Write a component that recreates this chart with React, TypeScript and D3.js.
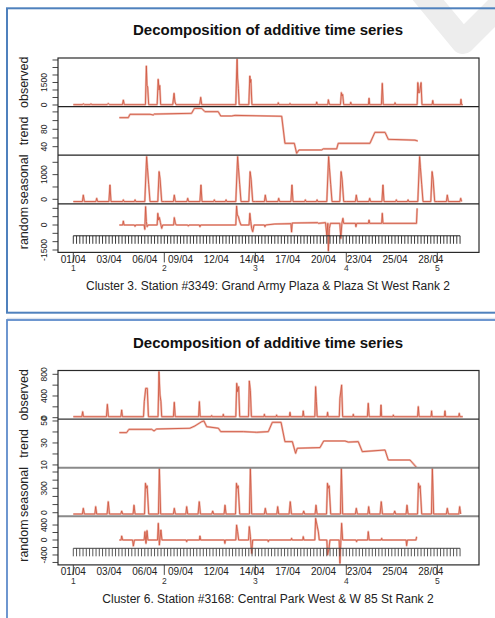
import React from 'react';
import * as d3 from 'd3';

// ---- Cluster 3, station #3349 ----
const observed1: [number, number][] = [
  [0, 20], [0.7, 20], [0.77, 80], [0.85, 20], [1.3, 20], [1.36, 80], [1.42, 20],
  [2.6, 20], [2.69, 100], [2.78, 20], [3.78, 20], [3.85, 330], [3.92, 20],
  [5.55, 20], [5.62, 2600], [5.67, 1300], [5.72, 1200], [5.8, 20],
  [6.45, 20], [6.53, 1710], [6.6, 1000], [6.65, 1300], [6.72, 20],
  [7.65, 20], [7.75, 780], [7.82, 200], [7.9, 20], [9.72, 20], [9.8, 510], [9.88, 20],
  [12.5, 20], [12.56, 2000], [12.6, 3050], [12.64, 1800], [12.7, 1100], [12.76, 20],
  [13.5, 20], [13.58, 1930], [13.62, 1500], [13.66, 1700], [13.74, 20],
  [15.72, 20], [15.77, 150], [15.82, 20], [16.62, 20], [16.67, 100], [16.72, 20],
  [18.68, 20], [18.72, 200], [18.78, 20], [19.58, 20], [19.62, 350], [19.67, 150], [19.72, 20],
  [20.55, 20], [20.62, 820], [20.68, 600], [20.72, 700], [20.8, 20],
  [21.3, 20], [21.34, 180], [21.4, 20], [22.7, 20], [22.75, 450], [22.8, 20],
  [23.7, 20], [23.77, 1440], [23.84, 20], [24.7, 20], [24.75, 150], [24.8, 20],
  [26.45, 20], [26.5, 1490], [26.58, 800], [26.65, 900], [26.75, 1490], [26.82, 20],
  [27.6, 20], [27.65, 300], [27.7, 20], [29.78, 20], [29.82, 380], [29.87, 20], [29.96, 20],
];

const trend1: [number, number][] = [
  [3.54, 106.7], [4.23, 106.7], [4.36, 114.5], [5.9, 114.5], [6.15, 112.9], [6.23, 115],
  [9.1, 116.8], [9.31, 128], [9.88, 128], [10.13, 120.5], [11.15, 120.5], [11.34, 110.6],
  [12.18, 110.6], [12.44, 112], [16.03, 110], [16.28, 47.8], [17.0, 47.8], [17.18, 24.8],
  [17.36, 32.4], [19.1, 32.4], [19.23, 35], [20.26, 35], [20.38, 47.8], [22.82, 47.8],
  [23.2, 73], [23.98, 73], [24.23, 57], [26.28, 55], [26.5, 53],
];

// one week of the (weekly periodic) seasonal component
const seasonalWeek1: [number, number][] = [
  [0, -90], [0.7, -90], [0.77, 170], [0.85, -90], [1.74, -90], [1.8, 40], [1.87, -90],
  [2.74, -90], [2.82, 580], [2.9, -90], [3.8, -90], [3.85, -20], [3.9, -90],
  [4.7, -90], [4.75, -20], [4.8, -90], [5.5, -90], [5.64, 1730], [5.7, 1300], [5.8, 600],
  [5.9, -90], [6.5, -90], [6.6, 1120], [6.68, 800], [6.8, -90], [7, -90],
];

const random1: [number, number][] = [
  [3.54, 0], [3.8, 0], [3.85, 240], [3.9, 0], [4.7, 0], [4.75, -80], [4.8, 0],
  [5.45, 0], [5.5, -260], [5.56, 1100], [5.62, 200], [5.68, -100], [5.75, 0],
  [6.45, 0], [6.5, 700], [6.56, 300], [6.62, 450], [6.7, 150], [6.8, -200], [6.88, 0],
  [7.72, 0], [7.77, 440], [7.85, 100], [7.92, 0], [8.8, 0], [8.85, -60], [8.9, 0],
  [9.7, 0], [9.74, -100], [9.8, 0], [12.5, 0], [12.56, 1140], [12.62, 600], [12.7, 500],
  [12.8, 200], [12.9, 0], [13.52, 0], [13.58, 700], [13.65, 200], [13.72, -200], [13.8, -400],
  [13.9, 0], [14.7, 0], [14.74, -100], [14.8, 0], [15.5, 60], [16.74, 80], [16.79, -420],
  [16.84, 120], [18.8, 140], [18.85, 100], [19.4, 140], [19.5, -600], [19.58, 100],
  [19.62, -1550], [19.7, -200], [19.78, 100], [20.5, 100], [20.58, -800], [20.66, 100],
  [20.74, 400], [20.8, 100], [21.7, 100], [21.74, -100], [21.8, 100], [22.7, 100],
  [22.75, 300], [22.8, 100], [23.72, 100], [23.77, 700], [23.82, 100], [26.4, 100], [26.45, 1000],
];

// ---- Cluster 6, station #3168 ----
const observed2: [number, number][] = [
  [0, 18], [0.66, 18], [0.72, 110], [0.78, 18], [2.55, 18], [2.62, 246], [2.7, 18],
  [3.66, 18], [3.72, 142], [3.78, 18], [5.4, 18], [5.46, 295], [5.57, 541], [5.69, 541], [5.78, 18],
  [6.52, 18], [6.59, 848], [6.67, 418], [6.74, 300], [6.8, 18],
  [7.7, 18], [7.77, 283], [7.84, 18], [9.64, 18], [9.7, 295], [9.76, 18],
  [10.6, 18], [10.64, 40], [10.68, 18], [11.5, 18], [11.54, 62], [11.58, 18],
  [12.5, 18], [12.57, 634], [12.64, 480], [12.72, 571], [12.8, 18],
  [13.48, 18], [13.54, 676], [13.62, 500], [13.7, 18], [14.66, 18], [14.7, 62], [14.74, 18],
  [15.6, 18], [15.64, 50], [15.68, 18], [16.62, 18], [16.67, 99], [16.72, 18],
  [17.64, 18], [17.69, 124], [17.74, 18], [18.58, 18], [18.64, 571], [18.7, 300], [18.76, 18],
  [19.52, 18], [19.56, 99], [19.6, 18], [20.46, 18], [20.51, 357], [20.64, 602], [20.72, 18],
  [21.5, 18], [21.54, 62], [21.58, 18], [22.62, 18], [22.69, 265], [22.76, 18],
  [23.62, 18], [23.67, 234], [23.72, 18], [24.58, 18], [24.62, 50], [24.66, 18],
  [26.48, 18], [26.54, 203], [26.6, 18], [27.52, 18], [27.56, 124], [27.6, 18],
  [28.54, 18], [28.59, 124], [28.64, 18], [29.64, 18], [29.69, 80], [29.74, 18], [29.96, 18],
];

const trend2: [number, number][] = [
  [3.54, 39.4], [4.1, 39.4], [4.28, 42.4], [6.03, 42.4], [6.21, 40.9], [6.41, 42.7],
  [8.97, 43.4], [9.36, 45.5], [9.88, 49.4], [10.05, 50], [10.26, 44.8], [11.16, 43.4],
  [11.34, 40.3], [13.08, 40.3], [14.1, 39.7], [15.0, 40.3], [15.31, 48.8], [15.98, 48.8],
  [16.28, 31.2], [16.85, 31.2], [17.1, 20.6], [17.23, 25.2], [18.98, 25.8], [19.26, 31.8],
  [20.9, 31.8], [21.16, 30.8], [21.92, 31.2], [22.23, 22.1], [23.98, 23.6], [24.23, 14.5],
  [25.9, 14.5], [26.41, 7.6],
];

const seasonalWeek2: [number, number][] = [
  [0, -16], [0.7, -16], [0.77, 54], [0.85, -16], [1.66, -16], [1.72, 74], [1.8, -16],
  [2.6, -16], [2.69, 135], [2.78, -16], [3.66, -16], [3.72, 21], [3.8, -16],
  [4.6, -16], [4.67, 92], [4.75, -16], [5.48, -16], [5.55, 362], [5.62, 300], [5.68, 330],
  [5.8, -16], [6.55, -16], [6.62, 546], [6.72, -16], [7, -16],
];

const random2: [number, number][] = [
  [3.54, 0], [3.68, 0], [3.72, 107], [3.8, 0], [4.56, 0], [4.62, -160], [4.7, 0],
  [5.45, 0], [5.51, 222], [5.59, -89], [5.67, 249], [5.74, 0], [6.48, 0], [6.54, 445],
  [6.62, -133], [6.74, 267], [6.82, 0], [8.68, 0], [8.72, -45], [8.76, 0],
  [9.7, 0], [9.74, 107], [9.8, 0], [11.62, 0], [11.66, -89], [11.7, 0],
  [12.5, 0], [12.56, 400], [12.64, 222], [12.72, 0], [13.48, 0], [13.54, 356], [13.62, 100],
  [13.72, -356], [13.8, 0], [14.96, 0], [15.0, -45], [15.04, 0], [16.75, 0], [16.79, 45],
  [16.84, 0], [17.65, 0], [17.69, 89], [17.74, 0], [18.58, 0], [18.64, 578], [18.85, 222],
  [18.92, 0], [19.5, 0], [19.56, -400], [19.67, -231], [19.74, 0], [20.45, 0], [20.51, -622],
  [20.64, 445], [20.72, 0], [21.74, 0], [21.79, -45], [21.84, 0], [22.64, 0], [22.69, 222],
  [22.76, 0], [23.68, 0], [23.72, 45], [23.76, 0], [25.6, 0], [25.64, -151], [25.7, 0],
  [26.36, 0], [26.41, 89],
];

const weekTickDays = [0, 7, 14, 21, 28];
const weekTickLabels = ['1', '2', '3', '4', '5'];
const dateLabelDays = [0, 2.75, 5.5, 8.25, 11, 13.75, 16.5, 19.25, 22, 24.75, 27.5];
const dateLabels = ['01/04', '03/04', '06/04', '09/04', '12/04', '14/04', '17/04', '20/04', '23/04', '25/04', '28/04'];
const rugDays = d3.range(0, 30, 0.25);

const panelNames = ['observed', 'trend', 'seasonal', 'random'];

const FONT = "'Liberation Sans', Arial, sans-serif";
const LEFT = 58;
const RIGHT = 479;
const SUB_H = 48.6;
const LINE_RED = '#d05a44';
const HALO = '#f0bdb3';

function tileWeek(week: [number, number][], end: number): [number, number][] {
  const out: [number, number][] = [];
  for (let w = 0; w < 5; w++) {
    week.forEach(([d, v], i) => {
      if (w > 0 && i === 0) return;
      const day = d + 7 * w;
      if (day <= end) out.push([day, v]);
    });
  }
  return out;
}

type Sub = {
  data: [number, number][];
  domain: [number, number];
  ticks: number[];
  labels: number[];
};

const x = d3.scaleLinear().domain([0, 30]).range([73.3, 463.3]);
const line = d3.line<[number, number]>();

function Decomp(props: {
  id: string;
  top: number;
  title: string;
  caption: string;
  subs: Sub[];
  sepColors: string[];
  sepWidths: number[];
  rugColor: string;
}) {
  const { id, top, title, caption, subs, sepColors, sepWidths, rugColor } = props;
  const bottom = top + SUB_H * 4;
  return (
    <g>
      <text x={268} y={top - 23} textAnchor="middle" fontFamily={FONT} fontWeight="bold" fontSize={15} fill="#111">
        {title}
      </text>
      {subs.map((s, i) => {
        const t = top + i * SUB_H;
        const y = d3.scaleLinear().domain(s.domain).range([t + SUB_H, t]);
        line.x(d => x(d[0])).y(d => y(d[1]));
        const path = line(s.data) || '';
        return (
          <g key={i}>
            <clipPath id={`${id}c${i}`}>
              <rect x={LEFT} y={t} width={RIGHT - LEFT} height={SUB_H} />
            </clipPath>
            <g clipPath={`url(#${id}c${i})`}>
              <path d={path} fill="none" stroke={HALO} strokeWidth={2.2} strokeLinejoin="round" />
              <path d={path} fill="none" stroke={LINE_RED} strokeWidth={0.9} strokeLinejoin="round" />
            </g>
            {s.ticks.map(v => (
              <line key={v} x1={52.5} x2={LEFT} y1={y(v)} y2={y(v)} stroke="#333" strokeWidth={0.9} />
            ))}
            {s.labels.map(v => (
              <text key={v} transform={`translate(46.5,${y(v)}) rotate(-90)`} textAnchor="middle"
                fontFamily={FONT} fontSize={8.5} fill="#222">{v}</text>
            ))}
            <text transform={`translate(28.3,${t + SUB_H / 2}) rotate(-90)`} textAnchor="middle"
              fontFamily={FONT} fontSize={12.5} fill="#222">{panelNames[i]}</text>
          </g>
        );
      })}
      {/* rug of 6-hour marks inside the random panel */}
      <g stroke={rugColor}>
        <line x1={x(0)} x2={x(rugDays[rugDays.length - 1])} y1={top + SUB_H * 3 + 32} y2={top + SUB_H * 3 + 32} strokeWidth={1} />
        {rugDays.map(d => (
          <line key={d} x1={x(d)} x2={x(d)} y1={top + SUB_H * 3 + 32} y2={top + SUB_H * 3 + 40} strokeWidth={0.9} />
        ))}
      </g>
      {/* frame and separators */}
      {[1, 2, 3].map(k => (
        <line key={k} x1={LEFT} x2={RIGHT} y1={top + SUB_H * k} y2={top + SUB_H * k}
          stroke={sepColors[k - 1]} strokeWidth={sepWidths[k - 1]} />
      ))}
      <rect x={LEFT} y={top} width={RIGHT - LEFT} height={SUB_H * 4} fill="none" stroke="#2a2a2a" strokeWidth={1.2} />
      {weekTickDays.map((d, i) => (
        <g key={d}>
          <line x1={x(d)} x2={x(d)} y1={bottom} y2={bottom + 10} stroke="#333" strokeWidth={0.9} />
          <text x={x(d)} y={bottom + 18.8} textAnchor="middle" fontFamily={FONT} fontSize={8.5} fill="#333">
            {weekTickLabels[i]}
          </text>
        </g>
      ))}
      {dateLabelDays.map((d, i) => (
        <text key={d} x={x(d)} y={bottom + 10.5} textAnchor="middle" fontFamily={FONT} fontSize={10} fill="#222">
          {dateLabels[i]}
        </text>
      ))}
      <text x={268} y={bottom + 37.8} textAnchor="middle" fontFamily={FONT} fontSize={12} fill="#222">
        {caption}
      </text>
    </g>
  );
}

export default function App() {
  const seasonal1 = tileWeek(seasonalWeek1, 29.96);
  const seasonal2 = tileWeek(seasonalWeek2, 29.96);

  const subs1: Sub[] = [
    { data: observed1, domain: [-107, 3133], ticks: [0, 500, 1000, 1500, 2000, 2500, 3000], labels: [0, 1500] },
    { data: trend1, domain: [20.4, 132.2], ticks: [40, 60, 80, 100, 120], labels: [40, 80] },
    { data: seasonal1, domain: [-182, 1788], ticks: [0, 500, 1000, 1500], labels: [0, 1000] },
    { data: random1, domain: [-1644, 1272], ticks: [-1500, -1000, -500, 0, 500, 1000], labels: [-1500, 0] },
  ];
  const subs2: Sub[] = [
    { data: observed2, domain: [-26, 870], ticks: [0, 200, 400, 600, 800], labels: [0, 400, 800] },
    { data: trend2, domain: [7.5, 51.7], ticks: [10, 20, 30, 40, 50], labels: [10, 30, 50] },
    { data: seasonal2, domain: [-44, 553], ticks: [0, 100, 200, 300, 400, 500], labels: [0, 300] },
    { data: random2, domain: [-665, 633], ticks: [-600, -400, -200, 0, 200, 400], labels: [-400, 0, 400] },
  ];

  return (
    <svg width={495} height={618} style={{ position: 'absolute', left: 0, top: 0, background: '#fff' }}>
      <rect width={495} height={618} fill="#fff" />
      {/* faint watermark stroke in the corner */}
      <polyline points="420,-10 463,42 505,0" fill="none" stroke="#ededed" strokeWidth={24} strokeLinejoin="round" />
      <rect x={7} y={8.3} width={500} height={304.4} fill="none" stroke="#4f81bd" strokeWidth={2} />
      <line x1={7} x2={495} y1={318.3} y2={318.3} stroke="#d3dcea" strokeWidth={1} />
      <rect x={7} y={320} width={500} height={310} fill="none" stroke="#5f8ccb" strokeWidth={1.8} />
      <Decomp id="p1" top={58} title="Decomposition of additive time series"
        caption="Cluster 3. Station #3349: Grand Army Plaza & Plaza St West Rank 2"
        subs={subs1} sepColors={['#222', '#222', '#222']} sepWidths={[1.2, 1.2, 1.2]} rugColor="#222" />
      <Decomp id="p2" top={370.5} title="Decomposition of additive time series"
        caption="Cluster 6. Station #3168: Central Park West & W 85 St Rank 2"
        subs={subs2} sepColors={['#333', '#8a8a8a', '#8a8a8a']} sepWidths={[1.2, 2, 2]} rugColor="#444" />
    </svg>
  );
}
